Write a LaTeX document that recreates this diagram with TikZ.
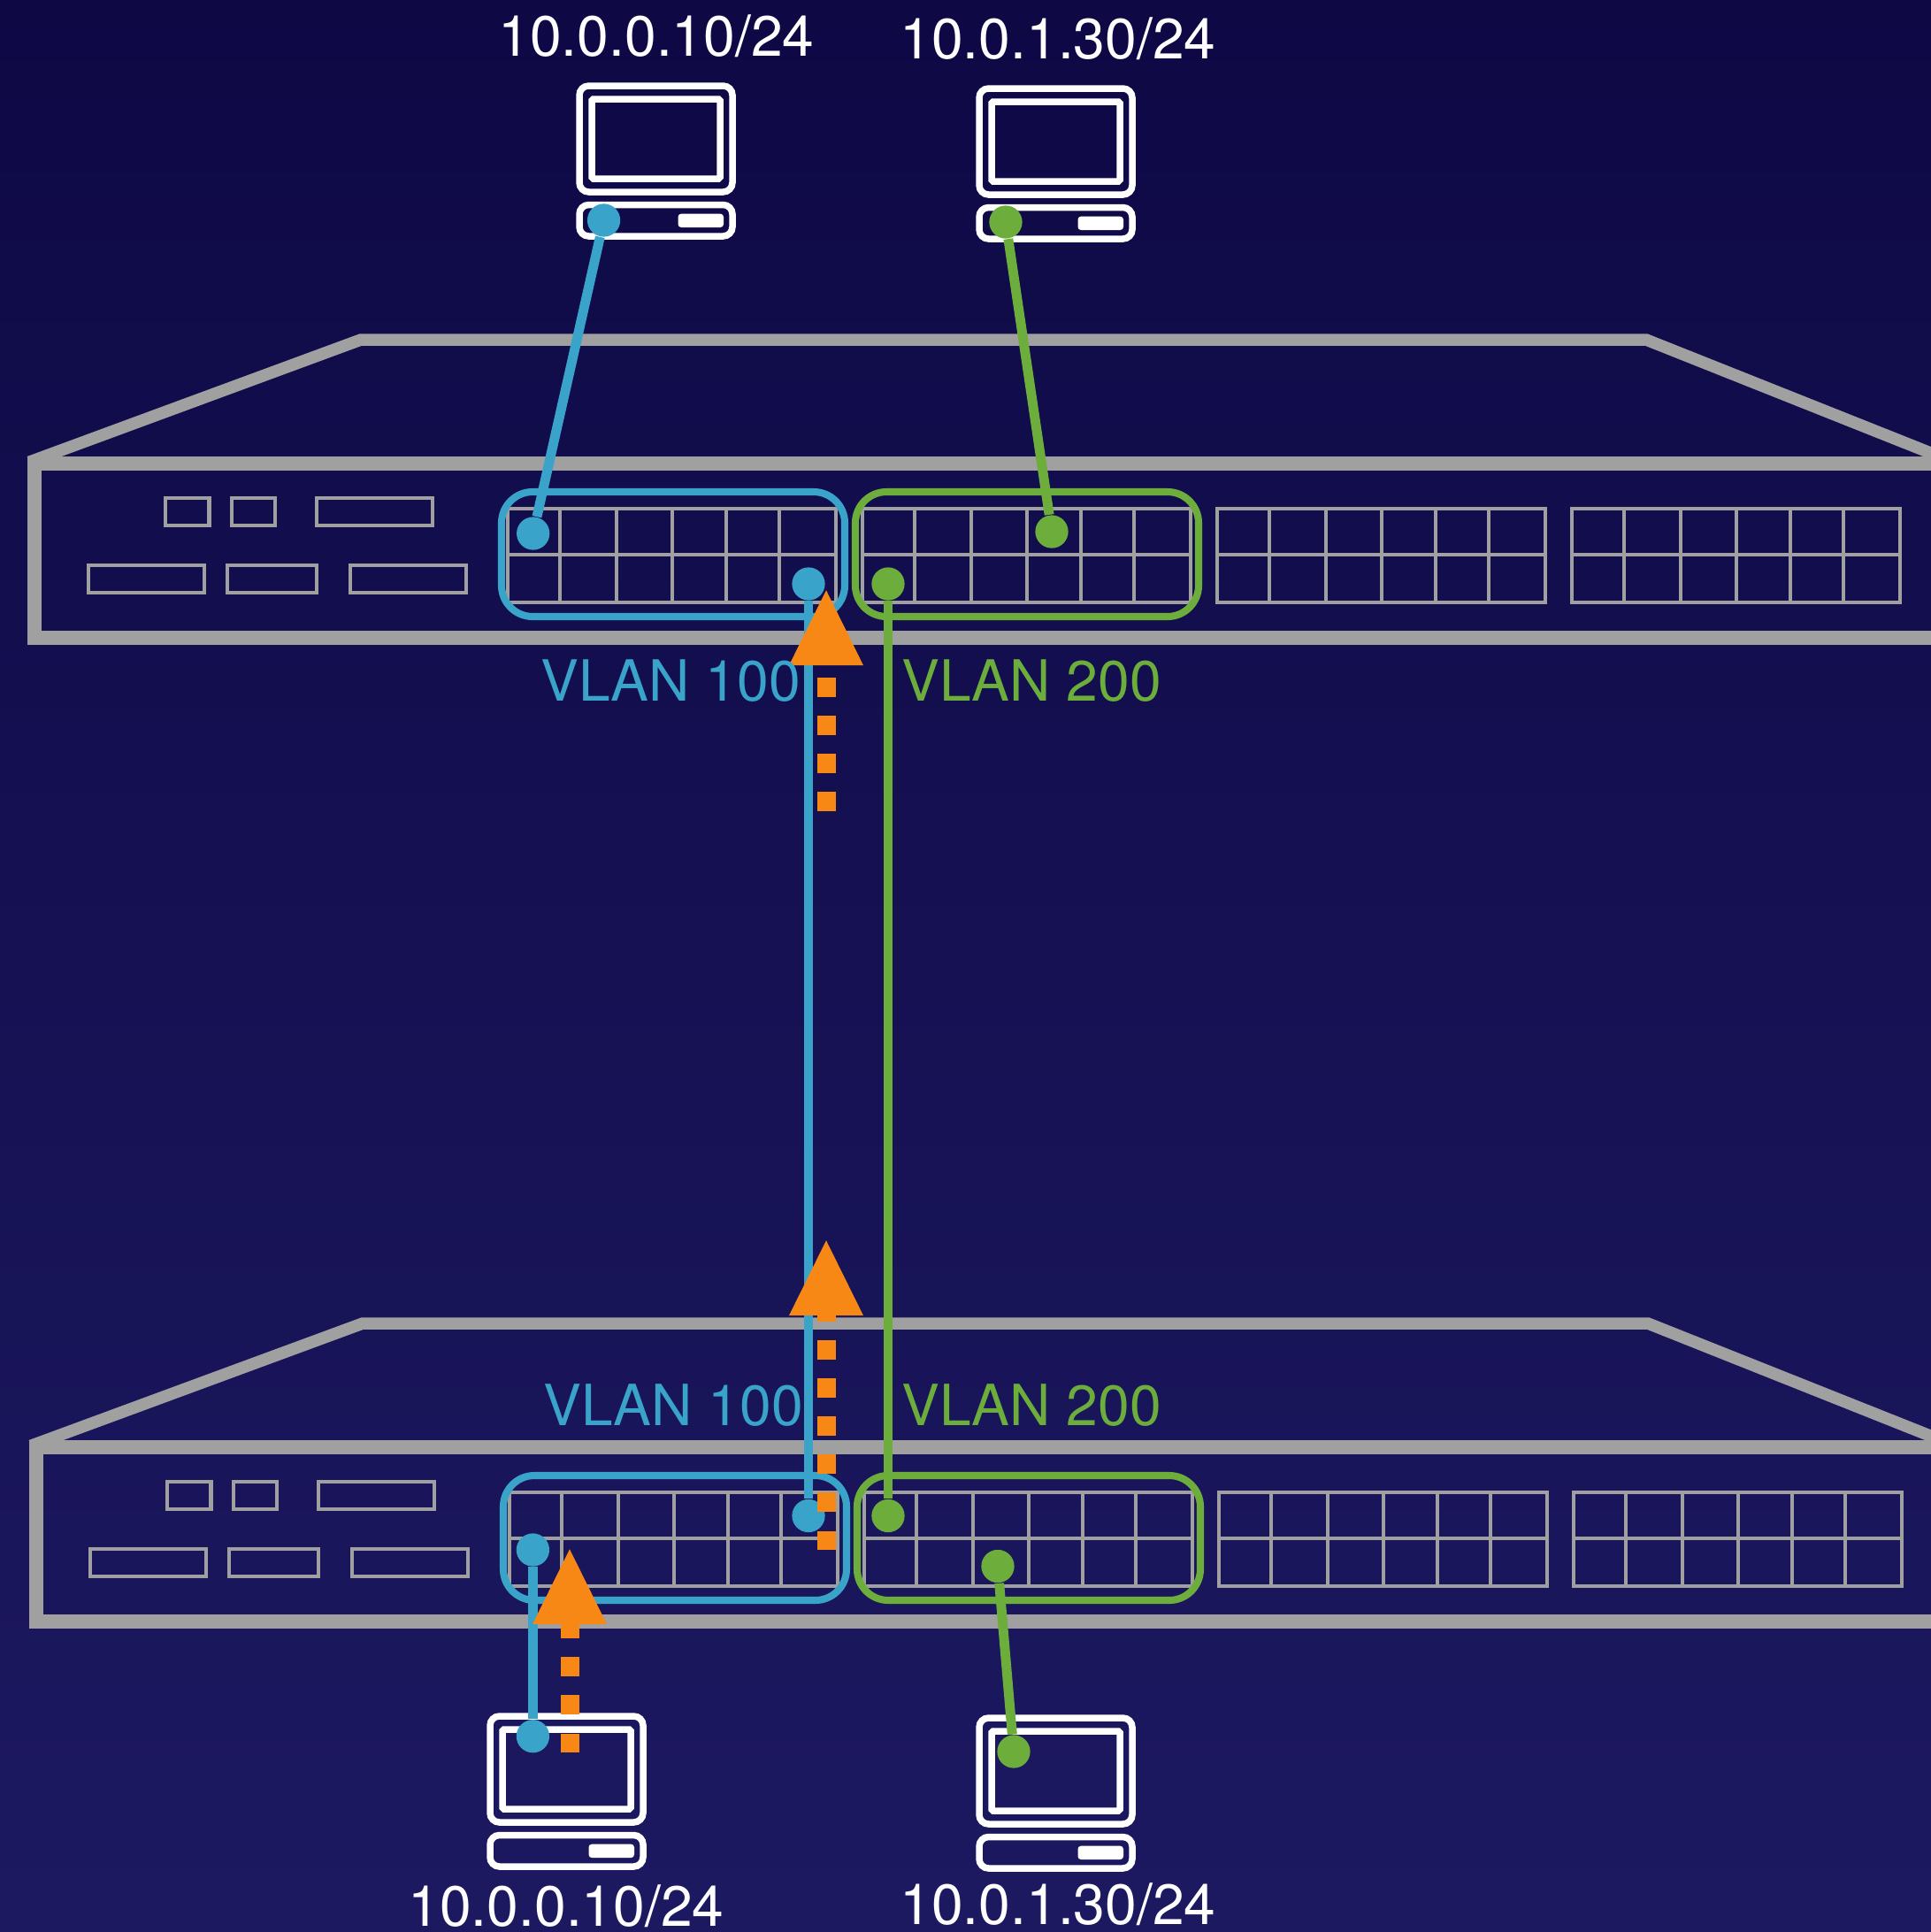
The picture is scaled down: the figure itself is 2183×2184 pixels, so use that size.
\documentclass[tikz,border=0pt]{standalone}
\usepackage{fontspec}
\setmainfont{TeX Gyre Heros}
\usepackage{xcolor}
\usetikzlibrary{arrows.meta}
\definecolor{bgtop}{HTML}{0E0945}
\definecolor{bgbottom}{HTML}{1D1961}
\definecolor{vlanblue}{HTML}{3AA3C9}
\definecolor{vlangreen}{HTML}{6CAD3C}
\definecolor{flowpath}{HTML}{F78816}
\definecolor{chassis}{HTML}{A0A0A0}

\begin{document}
\begin{tikzpicture}[x=0.01cm, y=-0.01cm,
    chassisline/.style={draw=chassis, line width=4.55pt, line join=miter},
    lidline/.style={draw=chassis, line width=3.84pt, line join=miter},
    portline/.style={draw=chassis, line width=1.14pt},
    bluegroup/.style={draw=vlanblue, line width=2.3pt, rounded corners=10pt},
    greengroup/.style={draw=vlangreen, line width=2.3pt, rounded corners=10pt},
    pcline/.style={draw=white, line width=2.13pt},
    bluelink/.style={draw=vlanblue, line width=3.1pt},
    greenlink/.style={draw=vlangreen, line width=3.1pt},
    bluedot/.style={circle, fill=vlanblue, inner sep=0pt, minimum size=10.6pt},
    greendot/.style={circle, fill=vlangreen, inner sep=0pt, minimum size=10.6pt},
    flowarrow/.style={draw=flowpath, line width=5.97pt, dash pattern=on 6.12pt off 6.12pt,
      -{Triangle[width=22pt, length=24.8pt, fill=flowpath]}},
    iplabel/.style={anchor=base, inner sep=0pt, text=white, font=\fontsize{18.25}{20}\selectfont},
    bluelabel/.style={anchor=base, inner sep=0pt, text=vlanblue, font=\fontsize{18.25}{20}\selectfont},
    greenlabel/.style={anchor=base, inner sep=0pt, text=vlangreen, font=\fontsize{18.25}{20}\selectfont}]
      \clip (0,0) rectangle (2183,2184);
      % Background
      \shade[top color=bgtop, bottom color=bgbottom] (0,0) rectangle (2183,2184);

      % Switches
      \foreach \dx/\dy in {0/0,2/1112} {
        \begin{scope}[shift={(\dx,\dy)}]
          \draw[lidline] (33,522.3) -- (408,384) -- (1861,384) -- (2195,517);
          \draw[chassisline] (2195,524) -- (38.6,524) -- (38.6,721) -- (2195,721);
          % Small slots
          \draw[portline] (187,563) rectangle (236.5,594);
          \draw[portline] (261.6,563) rectangle (311,594);
          \draw[portline] (358,563) rectangle (489,594);
          \draw[portline] (99.6,639) rectangle (231,670);
          \draw[portline] (257,639) rectangle (358,670);
          \draw[portline] (396,639) rectangle (527,670);
          % Port blocks
          \foreach \gx in {574,975,1376,1777} {
            \draw[portline] (\gx,575) rectangle +(371,106);
            \draw[portline] (\gx,627) -- +(371,0);
            \foreach \vx in {59,123,186,247,307} {
              \draw[portline] (\gx+\vx,575) -- +(0,106);
            }
          }
          % VLAN groups
          \draw[bluegroup] (567,556) rectangle (955,697);
          \draw[greengroup] (967,556) rectangle (1355,697);
        \end{scope}
      }

      % Hosts
      \foreach \px/\py in {651/93,1103/96,550/1936,1103/1938} {
        \begin{scope}[shift={(\px,\py)}]
          \draw[pcline, rounded corners=3pt] (4,4) rectangle (177,124);
          \draw[pcline, rounded corners=0.5pt] (18,19) rectangle (163,109);
          \draw[pcline, rounded corners=3pt] (4,138.5) rectangle (177,174);
          \fill[white, rounded corners=1pt] (115.5,148.7) rectangle (167,164);
        \end{scope}
      }

      % End points of the links
      \node[bluedot] (pcTopBlue) at (682.6,249) {};
      \node[bluedot] (portTopBlue) at (602.7,603) {};
      \node[bluedot] (trunkTopBlue) at (914,660) {};
      \node[bluedot] (trunkLowBlue) at (914,1713.5) {};
      \node[bluedot] (portLowBlue) at (602.4,1752) {};
      \node[bluedot] (pcLowBlue) at (602.4,1962.7) {};
      \node[greendot] (pcTopGreen) at (1137,251) {};
      \node[greendot] (portTopGreen) at (1189,601) {};
      \node[greendot] (trunkTopGreen) at (1004,660) {};
      \node[greendot] (trunkLowGreen) at (1004,1713.5) {};
      \node[greendot] (portLowGreen) at (1128,1770.5) {};
      \node[greendot] (pcLowGreen) at (1146,1980) {};

      % Links
      \draw[bluelink] (pcTopBlue) -- (portTopBlue);
      \draw[bluelink] (trunkTopBlue) -- (trunkLowBlue);
      \draw[bluelink] (portLowBlue) -- (pcLowBlue);
      \draw[greenlink] (pcTopGreen) -- (portTopGreen);
      \draw[greenlink] (trunkTopGreen) -- (trunkLowGreen);
      \draw[greenlink] (portLowGreen) -- (pcLowGreen);

      % Traffic path
      \coordinate (hostStart) at (644,1981);
      \coordinate (hostTip) at (644,1749);
      \coordinate (trunkStart) at (934,1752);
      \coordinate (trunkTip) at (934,1400);
      \coordinate (upStart) at (934,917);
      \coordinate (upTip) at (934,665);
      \draw[flowarrow] (hostStart) -- (hostTip);
      \draw[flowarrow] (trunkStart) -- (trunkTip);
      \draw[flowarrow] (upStart) -- (upTip);

      % Labels
      \node[iplabel] (ipTopBlue) at (742,63) {10.0.0.10/24};
      \node[iplabel] (ipTopGreen) at (1196,66) {10.0.1.30/24};
      \node[iplabel] (ipLowBlue) at (640,2177) {10.0.0.10/24};
      \node[iplabel] (ipLowGreen) at (1196,2175) {10.0.1.30/24};
      \node[bluelabel] (vlanTopBlue) at (758,792) {VLAN 100};
      \node[greenlabel] (vlanTopGreen) at (1166,792) {VLAN 200};
      \node[bluelabel] (vlanLowBlue) at (761,1611) {VLAN 100};
      \node[greenlabel] (vlanLowGreen) at (1166,1611) {VLAN 200};
\end{tikzpicture}
\end{document}
